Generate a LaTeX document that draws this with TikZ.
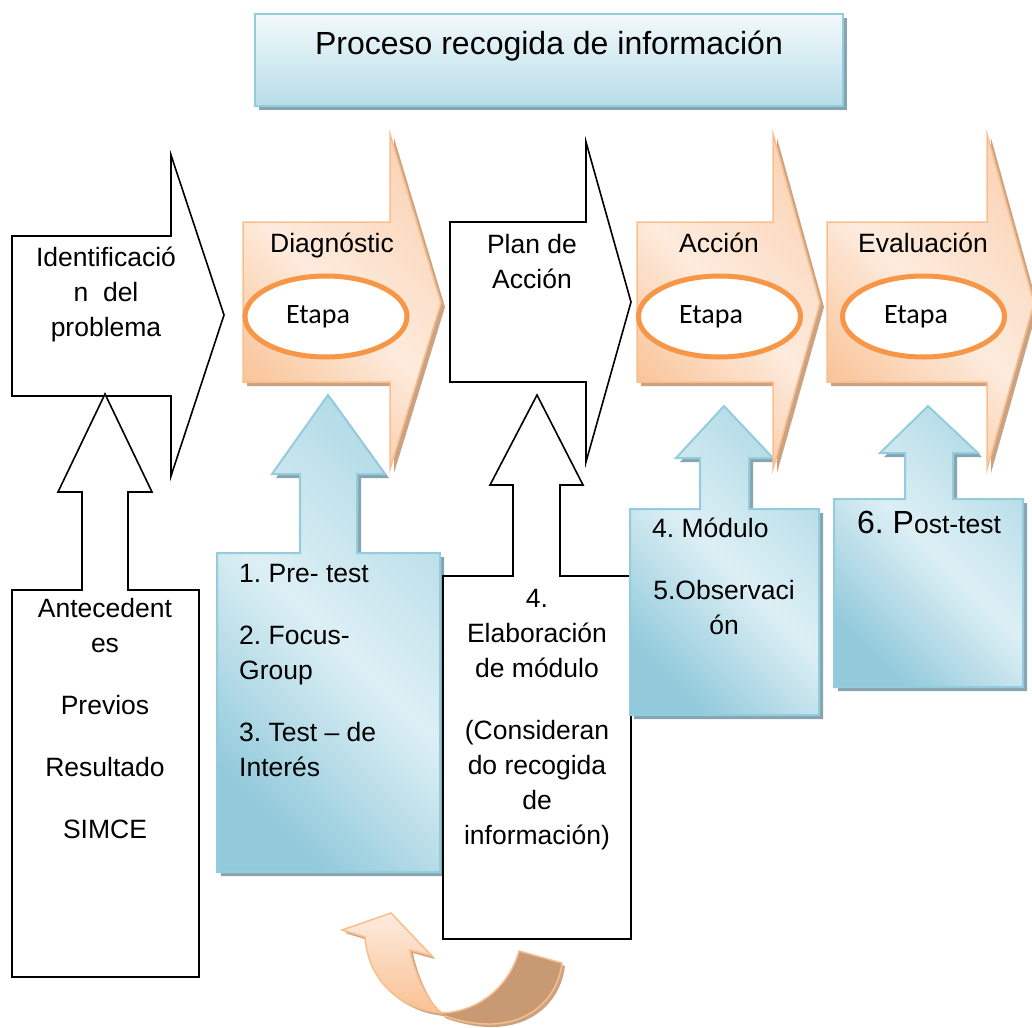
\documentclass[tikz,border=0pt]{standalone}
\usepackage{fontspec}
\setmainfont{Liberation Sans}
\newfontfamily\etapafont{Carlito}
\usetikzlibrary{%
  arrows,%
  positioning,%
  calc%
}
\frenchspacing

\definecolor{bluebd}{RGB}{147,205,221}
\definecolor{bluedk}{RGB}{146,202,219}
\definecolor{bluelt}{RGB}{221,239,245}
\definecolor{bluemd}{RGB}{178,219,231}
\definecolor{blueshd}{RGB}{136,164,176}
\definecolor{titletop}{RGB}{242,249,251}
\definecolor{titlebot}{RGB}{183,221,232}
\definecolor{orbd}{RGB}{249,190,140}
\definecolor{ordk}{RGB}{249,193,148}
\definecolor{orlt}{RGB}{253,235,221}
\definecolor{ormd}{RGB}{251,214,186}
\definecolor{orshd}{RGB}{203,163,131}
\definecolor{ringc}{RGB}{247,150,70}
\definecolor{ribbon}{RGB}{200,154,116}

\begin{document}
\begin{tikzpicture}[
  x=1pt, y=-1pt,
  font=\fontsize{26.5}{35}\selectfont,
  whitebox/.style={draw=black, fill=white, line width=1.6pt},
  stagebox/.style={draw=orbd, line width=1.5pt,
    preaction={fill=orshd, transform canvas={xshift=4pt, yshift=-4pt}},
    top color=ormd, bottom color=ordk, middle color=orlt, shading angle=-45},
  bluebox/.style={draw=bluebd, line width=2pt,
    preaction={fill=blueshd, transform canvas={xshift=4pt, yshift=-4pt}},
    top color=bluemd, bottom color=bluedk, middle color=bluelt, shading angle=-45},
  titlebox/.style={draw=bluebd, line width=2pt,
    preaction={fill=blueshd, transform canvas={xshift=4pt, yshift=-4pt}},
    top color=titletop, bottom color=titlebot},
  ribbonfront/.style={draw=orbd, line width=1.5pt,
    preaction={fill=orshd, transform canvas={xshift=3pt, yshift=-3pt}},
    top color=orlt, bottom color=ordk},
  ribbonback/.style={draw=orbd, line width=1.5pt, fill=ribbon,
    preaction={fill=orshd, transform canvas={xshift=3pt, yshift=-3pt}}},
  etaparing/.style={draw=ringc, fill=white, line width=5pt},
  etapa/.style={font=\etapafont\fontsize{28}{34}\selectfont, anchor=base, inner sep=0pt},
  lbl/.style={anchor=base, inner sep=0pt},
  blk/.style={anchor=north, inner sep=0pt, align=center},
]
\useasboundingbox (0,0) rectangle (1032,1027);

\draw[titlebox] (255,14) rectangle (843,106);
\node[lbl] (title) at (549,55) {\fontsize{32}{38}\selectfont Proceso recogida de información};

\draw[whitebox] (12,236) -- (171,236) -- (171,155) -- (224,315) -- (171,476) -- (171,396) -- (12,396) -- cycle;
\node[blk] (ident) at (106,241.5) {\strut Identificació\\n\ \ del\\problema};
\draw[whitebox] (450,222) -- (586,222) -- (586,142) -- (631,302) -- (586,462) -- (586,382) -- (450,382) -- cycle;
\node[blk] (plan) at (532,228.5) {\strut Plan de\\Acción};

\draw[whitebox] (12,590) -- (82,590) -- (82,492) -- (58,492) -- (105,394) -- (152,492) -- (128,492)
  -- (128,590) -- (199,590) -- (199,977) -- (12,977) -- cycle;
\node[blk] (antec) at (105,592.5) {\strut Antecedent\\es\\[27pt]Previos\\[27pt]Resultado\\[27pt]SIMCE};

\draw[bluebox] (217,553) -- (300,553) -- (300,474) -- (272,474) -- (328,395) -- (385,474) -- (357,474)
  -- (357,553) -- (440,553) -- (440,872) -- (217,872) -- cycle;
\node[blk, anchor=north west, align=left] (tests) at (239,557.5)
  {\strut 1. Pre- test\\[27pt]2. Focus-\\Group\\[27pt]3. Test – de\\Interés};

\draw[whitebox] (443,576) -- (513,576) -- (513,485) -- (490,485) -- (537,395) -- (583,485) -- (560,485)
  -- (560,576) -- (631,576) -- (631,939) -- (443,939) -- cycle;
\node[blk] (elab) at (537,582.5)
  {\strut 4.\\Elaboración\\de módulo\\[27pt](Consideran\\do recogida\\de\\información)};

\draw[bluebox] (630,509) -- (700,509) -- (700,458) -- (676,458) -- (724,406) -- (773,458) -- (749,458)
  -- (749,509) -- (819,509) -- (819,715) -- (630,715) -- cycle;
\node[lbl, anchor=base west] (modulo) at (652,537) {4. Módulo};
\node[blk] (observ) at (724,574.5) {\strut 5.Observaci\\ón};

\draw[bluebox] (834,499) -- (905,499) -- (905,453) -- (880,453) -- (928,406) -- (978,453) -- (953,453)
  -- (953,499) -- (1023,499) -- (1023,687) -- (834,687) -- cycle;
\node[lbl] (post) at (929,533) {{\fontsize{32}{38}\selectfont 6. P}ost-test};

\foreach \l/\r/\tip/\nm/\txt/\tx/\cx/\ex in {%
  243/390/441/diag/Diagnóstic/332/326/318,%
  637/773/820/accion/Acción/719/719.5/711,%
  827/987/1034/eval/Evaluación/923/923.5/916} {
  \draw[stagebox] (\l,222) -- (\r,222) -- (\r,134) -- (\tip,303) -- (\r,469) -- (\r,382) -- (\l,382) -- cycle;
  \draw[etaparing] (\cx,316.5) ellipse [x radius=81, y radius=40.5];
  \node[lbl] (\nm-name) at (\tx,252) {\txt};
  \node[etapa] (\nm-etapa) at (\ex,323) {Etapa};
}

\draw[ribbonback] (442,1013) .. controls (475,1012) and (508,990) .. (519,951) -- (562,963)
  .. controls (556,1010) and (510,1040) .. (442,1015) -- cycle;
\draw[ribbonfront] (391,913) -- (432,956) -- (410,950) .. controls (415,975) and (428,1003) .. (442,1013)
  .. controls (402,1010) and (368,982) .. (365,937) -- (342,930) -- cycle;

\end{tikzpicture}
\end{document}
